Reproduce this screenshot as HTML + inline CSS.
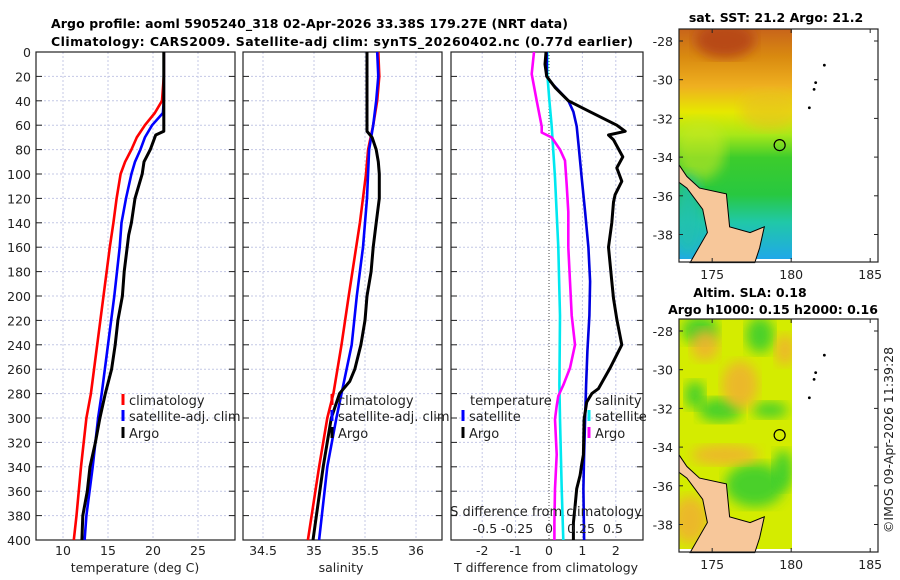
<!DOCTYPE html>
<html><head><meta charset="utf-8">
<style>
html,body{margin:0;padding:0;background:#fff;}
svg{display:block;font-family:"DejaVu Sans","Liberation Sans",sans-serif;}
</style></head>
<body>
<svg id="fig" width="900" height="580" viewBox="0 0 900 580" xmlns="http://www.w3.org/2000/svg">
<defs>
  <linearGradient id="sstGrad" x1="0" y1="0" x2="0" y2="1">
    <stop offset="0" stop-color="#c8641a"/>
    <stop offset="0.12" stop-color="#d98a10"/>
    <stop offset="0.25" stop-color="#efb020"/>
    <stop offset="0.36" stop-color="#e6e800"/>
    <stop offset="0.46" stop-color="#a8e818"/>
    <stop offset="0.56" stop-color="#3ccc2c"/>
    <stop offset="0.72" stop-color="#28c840"/>
    <stop offset="0.84" stop-color="#20c8a8"/>
    <stop offset="1" stop-color="#20a8e8"/>
  </linearGradient>
  <filter id="blur6"><feGaussianBlur stdDeviation="6"/></filter>
  <clipPath id="clipMap1"><rect x="679" y="29" width="113" height="230"/></clipPath>
  <clipPath id="clipMap2"><rect x="679" y="319" width="113" height="230"/></clipPath>
</defs>
<g id="plots"></g>
</svg>
<script>
// ---------- data ----------
const depthTicks = [0,20,40,60,80,100,120,140,160,180,200,220,240,260,280,300,320,340,360,380,400];
const tempTicks = [10,15,20,25];
const salTicks = [34.5,35,35.5,36];
const tdiffTicks = [-2,-1,0,1,2];
const sdiffTicks = [-0.5,-0.25,0,0.25,0.5];
const sdiffLabels = ["-0.5","-0.25","0","0.25","0.5"];

const tClimDepth = [0,20,40,50,60,70,80,90,100,120,140,160,200,280,300,340,380,400];
const tClim      = [21.2,21.2,21.0,20.2,19.1,18.2,17.6,16.9,16.4,15.96,15.6,15.2,14.5,13.1,12.6,12.0,11.5,11.2];
const tSatDepth  = [0,20,40,50,60,70,80,90,100,120,140,160,180,200,280,300,340,380,400];
const tSat       = [21.2,21.2,21.2,21.1,19.9,19.1,18.6,18.0,17.6,17.0,16.5,16.3,16.0,15.7,14.3,13.9,13.3,12.6,12.4];
const tArgoDepth = [0,20,40,65,68,80,90,100,120,140,150,180,200,220,240,260,280,300,320,340,360,380,400];
const tArgo      = [21.2,21.2,21.2,21.2,20.3,19.7,19.0,18.8,18.0,17.6,17.3,16.8,16.6,16.1,15.8,15.4,14.7,14.1,13.6,13.0,12.7,12.2,12.1];

const sClimDepth = [0,20,40,60,80,100,140,200,240,280,300,340,400];
const sClim      = [35.63,35.64,35.62,35.58,35.53,35.51,35.45,35.34,35.27,35.19,35.13,35.05,34.94];
const sSatDepth  = [0,20,40,60,80,120,160,200,240,280,300,340,400];
const sSat       = [35.62,35.63,35.61,35.58,35.54,35.52,35.48,35.42,35.37,35.27,35.22,35.13,35.05];
const sArgoDepth = [0,60,65,70,80,90,100,120,140,160,180,200,220,240,260,270,280,300,340,400];
const sArgo      = [35.52,35.52,35.52,35.57,35.61,35.63,35.64,35.64,35.61,35.58,35.56,35.52,35.50,35.46,35.40,35.35,35.25,35.17,35.09,34.99];

const dTSatDepth = [0,20,27,40,49,61,75,103,131,160,188,216,245,273,301,330,358,400];
const dTSat      = [-0.07,-0.07,0.13,0.58,0.73,0.83,0.88,0.98,1.08,1.18,1.23,1.21,1.15,1.11,1.08,1.05,1.03,1.05];
const dTArgoDepth = [0,10,20,29,40,49,60,65,68,72,86,95,106,117,123,140,160,188,202,219,240,259,276,280,287,301,330,338,347,358,372,386,400];
const dTArgo      = [-0.09,-0.12,-0.07,0.18,0.58,1.23,2.03,2.28,1.78,1.93,2.21,2.03,2.18,1.98,1.93,1.88,1.78,1.88,1.93,2.03,2.18,1.83,1.48,1.28,1.13,1.05,1.03,0.98,0.93,0.83,0.78,0.73,0.73];
const dSSatDepth = [0,18,40,61,103,160,216,273,301,358,400];
const dSSat      = [-0.013,-0.013,0.003,0.021,0.047,0.073,0.086,0.081,0.086,0.099,0.112];
const dSArgoDepth = [0,18,40,61,66,70,80,89,109,131,160,188,216,240,259,273,282,290,301,330,358,386,400];
const dSArgo      = [-0.117,-0.135,-0.096,-0.057,-0.057,0.021,0.086,0.125,0.138,0.151,0.151,0.164,0.177,0.203,0.164,0.112,0.073,0.060,0.047,0.060,0.047,0.042,0.042];

const lonTicks = [175,180,185];
const latTicks = [-28,-30,-32,-34,-36,-38];
const argoLon = 179.27, argoLat = -33.38;
const islandLon = [182.1,181.55,181.45,181.15];
const islandLat = [-29.25,-30.15,-30.5,-31.45];
const coastLon = [172.9,173.4,174.2,175.9,176.1,177.4,178.3,178.0,177.7,173.6,174.7,174.4,173.4,172.9];
const coastLat = [-34.4,-35.0,-35.6,-35.9,-37.6,-37.9,-37.6,-38.7,-39.45,-39.45,-37.9,-36.7,-35.6,-35.3];

// ---------- helpers ----------
const NS = "http://www.w3.org/2000/svg";
const root = document.getElementById('plots');
function el(tag, attrs, parent){
  const e = document.createElementNS(NS, tag);
  for (const k in attrs) e.setAttribute(k, attrs[k]);
  (parent||root).appendChild(e);
  return e;
}
function txt(x,y,s,size,anchor,parent,weight,fill){
  const t = el('text',{x:x,y:y,'font-size':size,'text-anchor':anchor||'middle',fill:fill||'#222','font-weight':weight||'normal'},parent);
  t.textContent = s;
  return t;
}
const TOP=52, BOT=540;
const yD = d => TOP + (BOT-TOP)*d/400;
function panel(x0,x1,name){
  const g = el('g',{});
  
  
  return g;
}
function frame(g,x0,x1,vgrid){
  depthTicks.forEach(d=>{
    if(d>0 && d<400) el('line',{x1:x0,x2:x1,y1:yD(d),y2:yD(d),stroke:'#c4c8e6','stroke-width':1,'stroke-dasharray':'2,2'},g);
    el('line',{x1:x0,x2:x0+6,y1:yD(d),y2:yD(d),stroke:'#222','stroke-width':1},g);
    el('line',{x1:x1-6,x2:x1,y1:yD(d),y2:yD(d),stroke:'#222','stroke-width':1},g);
  });
  vgrid.forEach(x=>{
    el('line',{x1:x,x2:x,y1:TOP,y2:BOT,stroke:'#c4c8e6','stroke-width':1,'stroke-dasharray':'2,2'},g);
  });
  el('rect',{x:x0,y:TOP,width:x1-x0,height:BOT-TOP,fill:'none',stroke:'#222','stroke-width':1.2},g);
}
function series(g,xs,ds,xf,color,name,w){
  const pts = xs.map((v,i)=>xf(v).toFixed(1)+','+yD(ds[i]).toFixed(1)).join(' ');
  const p = el('polyline',{points:pts,fill:'none',stroke:color,'stroke-width':w||2.6,'stroke-linejoin':'round'},g);
  
  
  return p;
}
function legendEntry(g,x,y,color,label,name){
  const e = el('g',{},g);
  
  
  el('rect',{x:x-1.5,y:y-7,width:3,height:11,fill:color},e);
  txt(x+6,y+4,label,13,'start',e,'normal','#222');
}

// ---------- title ----------
const title = el('g',{});


const t1 = txt(51,28,'Argo profile: aoml 5905240_318 02-Apr-2026 33.38S 179.27E (NRT data)',12.5,'start',title,'bold','#000');
t1.setAttribute('textLength','517');
const t2 = txt(51,46,'Climatology: CARS2009. Satellite-adj clim: synTS_20260402.nc (0.77d earlier)',12.5,'start',title,'bold','#000');
t2.setAttribute('textLength','582');

// ---------- panel 1: temperature ----------
const xT = t => 63 + (t-10)*9;
const p1 = panel(36,235,'temperature-panel');
frame(p1,36,235,tempTicks.map(xT));
series(p1,tClim,tClimDepth,xT,'#ff0000','temp-climatology-line');
series(p1,tSat,tSatDepth,xT,'#0000ff','temp-satellite-adj-line');
series(p1,tArgo,tArgoDepth,xT,'#000000','temp-argo-line',3);
const yax = el('g',{},p1);


depthTicks.forEach(d=>txt(31,yD(d)+5,String(d),12.5,'end',yax));
tempTicks.forEach(t=>txt(xT(t),555,String(t),12.5,'middle',p1));
const xl1 = txt(135,572,'temperature (deg C)',12.5,'middle',p1);


legendEntry(p1,123,401,'#ff0000','climatology','legend-climatology');
legendEntry(p1,123,417,'#0000ff','satellite-adj. clim','legend-satellite-adj');
legendEntry(p1,123,434,'#000000','Argo','legend-argo');

// ---------- panel 2: salinity ----------
const xS = s => 263 + (s-34.5)*102;
const p2 = panel(243,442,'salinity-panel');
frame(p2,243,442,salTicks.map(xS));
series(p2,sClim,sClimDepth,xS,'#ff0000','sal-climatology-line');
series(p2,sSat,sSatDepth,xS,'#0000ff','sal-satellite-adj-line');
series(p2,sArgo,sArgoDepth,xS,'#000000','sal-argo-line',3);
salTicks.forEach(s=>txt(xS(s),555,String(s),12.5,'middle',p2));
const xl2 = txt(341,572,'salinity',12.5,'middle',p2);


legendEntry(p2,332,401,'#ff0000','climatology','legend-sal-climatology');
legendEntry(p2,332,417,'#0000ff','satellite-adj. clim','legend-sal-satellite-adj');
legendEntry(p2,332,434,'#000000','Argo','legend-sal-argo');

// ---------- panel 3: differences ----------
const xDT = t => 549 + t*33.4;
const xDS = s => 549 + s*128;
const p3 = panel(451,643,'difference-panel');
frame(p3,451,643,tdiffTicks.filter(t=>t!==0).map(xDT));
el('line',{x1:549,x2:549,y1:TOP,y2:BOT,stroke:'#444','stroke-width':1,'stroke-dasharray':'1,2'},p3);
series(p3,dSSat,dSSatDepth,xDS,'#00e8f0','sal-diff-satellite-line');
series(p3,dSArgo,dSArgoDepth,xDS,'#ff00ff','sal-diff-argo-line');
series(p3,dTSat,dTSatDepth,xDT,'#0000e0','temp-diff-satellite-line');
series(p3,dTArgo,dTArgoDepth,xDT,'#000000','temp-diff-argo-line',3);
txt(470,405,'temperature',13,'start',p3,'normal','#222');
legendEntry(p3,463,417,'#0000ff','satellite','legend-temp-diff-satellite');
legendEntry(p3,463,434,'#000000','Argo','legend-temp-diff-argo');
txt(595,405,'salinity',13,'start',p3,'normal','#222');
legendEntry(p3,589,417,'#00e8f0','satellite','legend-sal-diff-satellite');
legendEntry(p3,589,434,'#ff00ff','Argo','legend-sal-diff-argo');
const st = txt(546,516,'S difference from climatology',13,'middle',p3);


sdiffTicks.forEach((s,i)=>txt(xDS(s),533,sdiffLabels[i],12.5,'middle',p3));
tdiffTicks.forEach(t=>txt(xDT(t),555,String(t),12.5,'middle',p3));
const tt = txt(546,572,'T difference from climatology',12.5,'middle',p3);



// ---------- maps ----------
const mX = lon => 679 + (lon-172.9)*15.8;
function makeMap(name, top, lat28y, titleLines, fill){
  const mY = lat => lat28y + (-28-lat)*19.35;
  const g = el('g',{});
  
  
  fill(g, mY);
  const land = el('polygon',{points:coastLon.map((l,i)=>mX(l).toFixed(1)+','+mY(coastLat[i]).toFixed(1)).join(' '),fill:'#f7c79a',stroke:'#000','stroke-width':1},g);
  
  
  islandLon.forEach((l,i)=>el('circle',{cx:mX(l),cy:mY(islandLat[i]),r:1.4,fill:'#000'},g));
  const c = el('circle',{cx:mX(argoLon),cy:mY(argoLat),r:5.5,fill:'none',stroke:'#000','stroke-width':1.2},g);
  
  
  el('rect',{x:679,y:top,width:199,height:233,fill:'none',stroke:'#222','stroke-width':1.2},g);
  latTicks.forEach(la=>{
    el('line',{x1:679,x2:683,y1:mY(la),y2:mY(la),stroke:'#222'},g);
    el('line',{x1:874,x2:878,y1:mY(la),y2:mY(la),stroke:'#222'},g);
    txt(673,mY(la)+5,String(la),12.5,'end',g);
  });
  lonTicks.forEach(lo=>{
    el('line',{x1:mX(lo),x2:mX(lo),y1:top+229,y2:top+233,stroke:'#222'},g);
    el('line',{x1:mX(lo),x2:mX(lo),y1:top,y2:top+4,stroke:'#222'},g);
    txt(mX(lo),top+250,String(lo),12.5,'middle',g);
  });
  titleLines.forEach(t=>txt(t[0],t[1],t[2],12.5,'middle',g,'bold','#000'));
}
makeMap('sst-map',29,41,[[776,22,'sat. SST: 21.2 Argo: 21.2']],(g,mY)=>{
  const cg = el('g',{'clip-path':'url(#clipMap1)'},g);
  el('rect',{x:679,y:29,width:113,height:230,fill:'url(#sstGrad)'},cg);
  el('ellipse',{cx:725,cy:40,rx:30,ry:18,fill:'#b84a18',filter:'url(#blur6)'},cg);
  el('ellipse',{cx:700,cy:150,rx:25,ry:30,fill:'#c8e820',opacity:0.6,filter:'url(#blur6)'},cg);
  el('ellipse',{cx:770,cy:110,rx:30,ry:20,fill:'#e8c020',opacity:0.6,filter:'url(#blur6)'},cg);
  el('ellipse',{cx:688,cy:215,rx:14,ry:40,fill:'#20c0b0',opacity:0.8,filter:'url(#blur6)'},cg);
});
makeMap('sla-map',319,331,[[750,297,'Altim. SLA: 0.18'],[773,314,'Argo h1000: 0.15 h2000: 0.16']],(g,mY)=>{
  const cg = el('g',{'clip-path':'url(#clipMap2)'},g);
  el('rect',{x:679,y:319,width:113,height:230,fill:'#d4ec00'},cg);
  [[700,330,18,14],[760,335,14,18],[695,395,10,14],[720,410,22,12],[770,410,18,8],[755,485,30,22],[783,470,10,20]].forEach(b=>
    el('ellipse',{cx:b[0],cy:b[1],rx:b[2],ry:b[3],fill:'#30cc30',opacity:0.85,filter:'url(#blur6)'},cg));
  [[740,385,18,24],[785,350,10,16],[725,455,34,10],[705,345,14,16],[690,520,18,24]].forEach(b=>
    el('ellipse',{cx:b[0],cy:b[1],rx:b[2],ry:b[3],fill:'#f0b030',opacity:0.85,filter:'url(#blur6)'},cg));
});

// copyright
const cp = el('text',{x:0,y:0,'font-size':12.5,'text-anchor':'middle',fill:'#222',transform:'translate(893,440) rotate(-90)'});
cp.textContent = '©IMOS 09-Apr-2026 11:39:28';


</script>
</body></html>
